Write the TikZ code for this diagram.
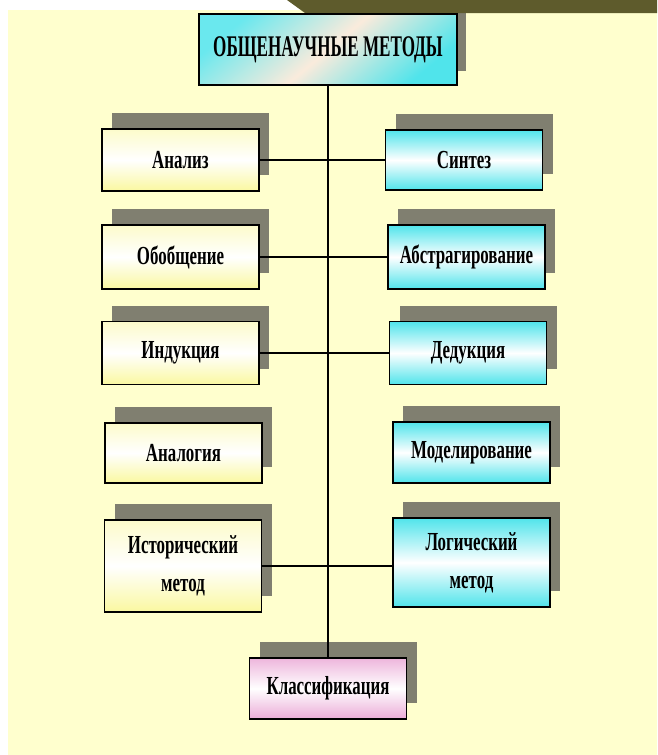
\documentclass[tikz,border=0pt]{standalone}
\usepackage{fontspec}
\newfontfamily\cond[FakeStretch=0.65]{Liberation Serif}
\newfontfamily\condt[FakeStretch=0.57]{Liberation Serif}
\usetikzlibrary{shadows}
\definecolor{bgy}{RGB}{255,255,206}
\definecolor{band}{RGB}{94,91,44}
\definecolor{shd}{RGB}{128,127,112}
\definecolor{cy}{RGB}{80,228,235}
\definecolor{yl}{RGB}{250,248,160}
\definecolor{pk}{RGB}{230,150,205}
\definecolor{peach}{RGB}{250,235,220}
\tikzset{
  box/.style={draw=black, line width=1.4pt, inner sep=0pt, minimum width=157pt,
    align=center, text=black,
    font=\cond\bfseries\fontsize{26}{38}\selectfont,
    drop shadow={shadow xshift=10pt, shadow yshift=16pt, fill=shd, opacity=1}},
  lbox/.style={box, top color=yl!55, bottom color=yl, middle color=white},
  rbox/.style={box, top color=cy, bottom color=cy, middle color=white},
  link/.style={draw=black, line width=1.4pt}
}
\begin{document}
\begin{tikzpicture}[x=1pt,y=-1pt]
\useasboundingbox (0,0) rectangle (657,755);
\fill[white] (0,0) rectangle (657,755);
\fill[bgy] (8,10) rectangle (657,755);
% top box shadow and band
\fill[shd] (457,13) rectangle (466,71);
\fill[band] (287,0) -- (305,13) -- (657,13) -- (657,0) -- cycle;
% top box
\node[draw=black, line width=1.4pt, minimum width=258pt, minimum height=71pt,
  inner sep=0pt, top color=cy!85, bottom color=cy, middle color=peach,
  shading angle=40, font=\condt\bfseries\fontsize{30}{34}\selectfont]
  (top) at (328,49.5) {ОБЩЕНАУЧНЫЕ МЕТОДЫ};
% left column
\node[lbox, minimum height=62pt] (analiz) at (180.5,160) {Анализ};
\node[lbox, minimum height=64pt] (obob) at (180.5,257) {Обобщение};
\node[lbox, minimum height=63pt] (indu) at (180.5,353) {Индукция};
\node[lbox, minimum height=60pt] (analog) at (183.5,453) {Аналогия};
\node[lbox, minimum height=92pt] (ist) at (183,566) {Исторический\\метод};
% right column
\node[rbox, minimum height=60pt] (sint) at (464,160) {Синтез};
\node[rbox, minimum height=64pt] (abst) at (466.5,257) {Абстрагирование};
\node[rbox, minimum height=63pt] (dedu) at (468,353) {Дедукция};
\node[rbox, minimum height=61pt] (model) at (471.5,452.5) {Моделирование};
\node[rbox, minimum height=89pt] (log) at (471.5,562.5) {Логический\\метод};
% bottom
\node[box, top color=pk!70, bottom color=pk!80, middle color=white,
  minimum height=61pt] (klass) at (328,688.5) {Классификация};
% connectors
\draw[link] (top.south) -- (klass.north);
\draw[link] (analiz.east) -- (analiz.east -| sint.west);
\draw[link] (obob.east) -- (obob.east -| abst.west);
\draw[link] (indu.east) -- (indu.east -| dedu.west);
\draw[link] (ist.east) -- (ist.east -| log.west);
\end{tikzpicture}
\end{document}
